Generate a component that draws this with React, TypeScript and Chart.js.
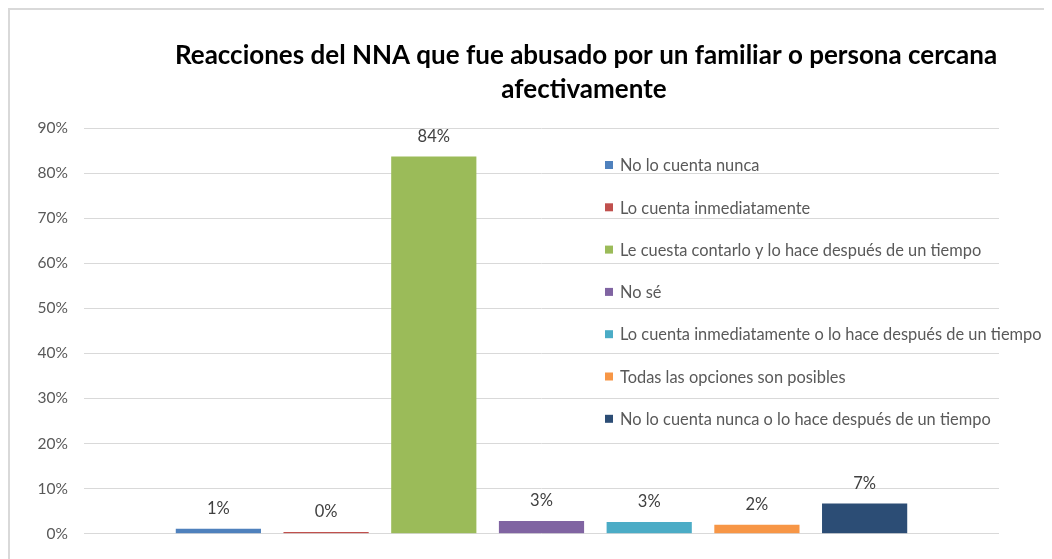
import React, { useEffect, useRef } from "react";
import { Chart, registerables } from "chart.js";

Chart.register(...registerables);

const titleLines = [
  "Reacciones del NNA que fue abusado por un familiar o persona cercana",
  "afectivamente",
];
const categories = ["Reacciones"];
const seriesLabels = [
  "No lo cuenta nunca",
  "Lo cuenta inmediatamente",
  "Le cuesta contarlo y lo hace después de un tiempo",
  "No sé",
  "Lo cuenta inmediatamente o lo hace después de un tiempo",
  "Todas las opciones son posibles",
  "No lo cuenta nunca o lo hace después de un tiempo",
];
const seriesValues = [1.1, 0.4, 83.7, 2.8, 2.6, 2.0, 6.7];
const seriesColors = [
  "#4F81BD",
  "#C0504D",
  "#9BBB59",
  "#8064A2",
  "#4BACC6",
  "#F79646",
  "#2C4D75",
];
const yMin = 0;
const yMax = 90;
const yStep = 10;

const FONT = "Lato, 'Open Sans', sans-serif";
const W = 1042;
const H = 549;

const overlayPlugin = {
  id: "overlay",
  afterDatasetsDraw(chart: any) {
    const ctx = chart.ctx;
    ctx.save();
    // data labels
    ctx.font = `16.5px ${FONT}`;
    ctx.fillStyle = "#404040";
    ctx.textAlign = "center";
    ctx.textBaseline = "middle";
    chart.data.datasets.forEach((ds: any, i: number) => {
      const meta = chart.getDatasetMeta(i);
      const el = meta.data[0];
      if (!el) return;
      ctx.fillText(`${Math.round(ds.data[0])}%`, el.x, el.y - 20);
    });
    // legend
    const lx = 595;
    const ly0 = 155;
    const lstep = 42.3;
    ctx.font = `16.4px ${FONT}`;
    ctx.textAlign = "left";
    chart.data.datasets.forEach((ds: any, i: number) => {
      const y = ly0 + i * lstep;
      ctx.fillStyle = ds.backgroundColor;
      ctx.fillRect(lx, y - 4, 8, 8);
      ctx.fillStyle = "#595959";
      ctx.fillText(ds.label, lx + 15, y + 1);
    });
    // title
    ctx.font = `bold 26px ${FONT}`;
    ctx.fillStyle = "#000000";
    ctx.textAlign = "center";
    ctx.fillText(titleLines[0], 576, 46);
    ctx.fillText(titleLines[1], 574, 80);
    ctx.restore();
  },
};

export default function App() {
  const ref = useRef<HTMLCanvasElement>(null);
  useEffect(() => {
    if (!ref.current) return;
    const chart = new Chart(ref.current, {
      type: "bar",
      data: {
        labels: categories,
        datasets: seriesLabels.map((label, i) => ({
          label,
          data: [seriesValues[i]],
          backgroundColor: seriesColors[i],
          borderWidth: 0,
          categoryPercentage: 0.824,
          barPercentage: 0.791,
        })),
      },
      options: {
        animation: false,
        responsive: false,
        devicePixelRatio: 1,
        layout: { padding: { top: 118, bottom: 24, right: 53, left: 0 } },
        plugins: {
          legend: { display: false },
          title: { display: false },
          tooltip: { enabled: false },
        },
        scales: {
          x: { display: false },
          y: {
            min: yMin,
            max: yMax,
            afterFit: (s: any) => {
              s.width = 74;
            },
            ticks: {
              stepSize: yStep,
              padding: 16,
              color: "#595959",
              font: { family: FONT, size: 15.5 },
              callback: (v: any) => `${v}%`,
            },
            grid: { color: "#D9D9D9", lineWidth: 1, drawTicks: false },
            border: { display: false },
          },
        },
      },
      plugins: [overlayPlugin],
    });
    return () => chart.destroy();
  }, []);
  return (
    <div
      style={{
        width: 1044,
        height: 551,
        boxSizing: "border-box",
        borderTop: "2px solid #D9D9D9",
        borderLeft: "2px solid #D9D9D9",
        overflow: "hidden",
      }}
    >
      <canvas ref={ref} width={W} height={H} style={{ display: "block" }} />
    </div>
  );
}
